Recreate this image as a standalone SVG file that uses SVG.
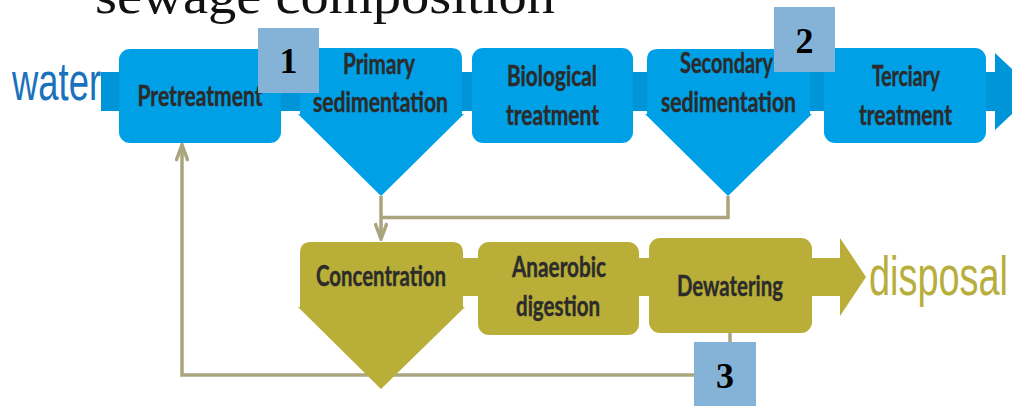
<svg xmlns="http://www.w3.org/2000/svg" width="1012" height="406" viewBox="0 0 1012 406">
<defs>
<style>
.lbl{font-family:Lato,"Liberation Sans",sans-serif;font-weight:bold;font-size:28px;fill:#2b2b2b;text-anchor:middle;stroke:#2b2b2b;stroke-width:0.4}
.num{font-family:"Liberation Serif",serif;font-weight:bold;font-size:36px;fill:#000;text-anchor:middle}
.blue{fill:#00a0e6}
.band{fill:#0095d8}
.olive{fill:#b8ae38}
.badge{fill:#85b3d7}
.conn{fill:none;stroke:#aaa57f;stroke-width:3.5}
</style>
<marker id="arr" viewBox="0 0 20 14" refX="18" refY="7" markerWidth="20" markerHeight="14" markerUnits="userSpaceOnUse" orient="auto">
<path d="M2,1 L18,7 L2,13" fill="none" stroke="#aaa57f" stroke-width="3.5"/>
</marker>
</defs>
<rect width="1012" height="406" fill="#fff"/>
<text x="95" y="13" font-family="'Liberation Serif',serif" font-size="50" fill="#111" textLength="460" lengthAdjust="spacingAndGlyphs">sewage composition</text>

<g id="bands">
<rect class="band" x="101" y="72" width="900" height="39"/>
<path class="band" d="M995,53 L1036,91.5 L995,130 Z"/>
<rect class="olive" x="455" y="258" width="390" height="38"/>
<path class="olive" d="M840,238 L866,277 L840,316 Z"/>
</g>

<text id="water" x="12" y="100" font-family="'Liberation Sans',sans-serif" font-size="54" fill="#1a72bd" textLength="89" lengthAdjust="spacingAndGlyphs">water</text>
<text id="disposal" x="869" y="295" font-family="'Liberation Sans',sans-serif" font-size="56" fill="#b7ae3c" textLength="139" lengthAdjust="spacingAndGlyphs">disposal</text>

<g id="connectors">
<path class="conn" d="M381,196 V239" marker-end="url(#arr)"/>
<path class="conn" d="M728,196 V217.5 H381"/>
<path class="conn" d="M730,333 V375 H182 V145" marker-end="url(#arr)"/>
</g>

<g id="pretreatment">
<rect class="blue" x="119" y="49" width="162" height="94" rx="11"/>
<text class="lbl" x="200" y="106" textLength="125" lengthAdjust="spacingAndGlyphs">Pretreatment</text>
</g>
<g id="primary">
<path class="blue" d="M311,48 H451 Q462,48 462,59 V114 L464,114 L381,196 L298,114 L300,114 V59 Q300,48 311,48 Z"/>
<text class="lbl" x="379" y="74" textLength="72" lengthAdjust="spacingAndGlyphs">Primary</text>
<text class="lbl" x="380.5" y="112" textLength="135" lengthAdjust="spacingAndGlyphs">sedimentation</text>
</g>
<g id="biological">
<rect class="blue" x="472" y="48" width="161" height="95" rx="11"/>
<text class="lbl" x="552" y="86" textLength="90" lengthAdjust="spacingAndGlyphs">Biological</text>
<text class="lbl" x="552.5" y="125" textLength="93" lengthAdjust="spacingAndGlyphs">treatment</text>
</g>
<g id="secondary">
<path class="blue" d="M658,49 H799 Q810,49 810,60 V114 L812,114 L728,196 L645,114 L647,114 V60 Q647,49 658,49 Z"/>
<text class="lbl" x="726.5" y="73" textLength="93" lengthAdjust="spacingAndGlyphs">Secondary</text>
<text class="lbl" x="728.5" y="112" textLength="135" lengthAdjust="spacingAndGlyphs">sedimentation</text>
</g>
<g id="terciary">
<rect class="blue" x="824" y="48" width="162" height="95" rx="11"/>
<text class="lbl" x="906" y="86" textLength="68" lengthAdjust="spacingAndGlyphs">Terciary</text>
<text class="lbl" x="905.5" y="125" textLength="93" lengthAdjust="spacingAndGlyphs">treatment</text>
</g>

<g id="concentration">
<path class="olive" d="M311,242 H452 Q463,242 463,253 V307 L465,307 L381,389 L298,307 L300,307 V253 Q300,242 311,242 Z"/>
<text class="lbl" x="381" y="286" textLength="130" lengthAdjust="spacingAndGlyphs">Concentration</text>
</g>
<g id="anaerobic">
<rect class="olive" x="478" y="242" width="161" height="93" rx="11"/>
<text class="lbl" x="559" y="277" textLength="94" lengthAdjust="spacingAndGlyphs">Anaerobic</text>
<text class="lbl" x="558" y="316" textLength="84" lengthAdjust="spacingAndGlyphs">digestion</text>
</g>
<g id="dewatering">
<rect class="olive" x="649" y="238" width="163" height="95" rx="11"/>
<text class="lbl" x="730" y="296" textLength="106" lengthAdjust="spacingAndGlyphs">Dewatering</text>
</g>

<g id="badge1">
<rect class="badge" x="258" y="28" width="61" height="65"/>
<text class="num" x="288.5" y="73">1</text>
</g>
<g id="badge2">
<rect class="badge" x="774" y="7" width="61" height="65"/>
<text class="num" x="804.5" y="53">2</text>
</g>
<g id="badge3">
<rect class="badge" x="694" y="342" width="62" height="64"/>
<text class="num" x="725" y="388">3</text>
</g>
</svg>
